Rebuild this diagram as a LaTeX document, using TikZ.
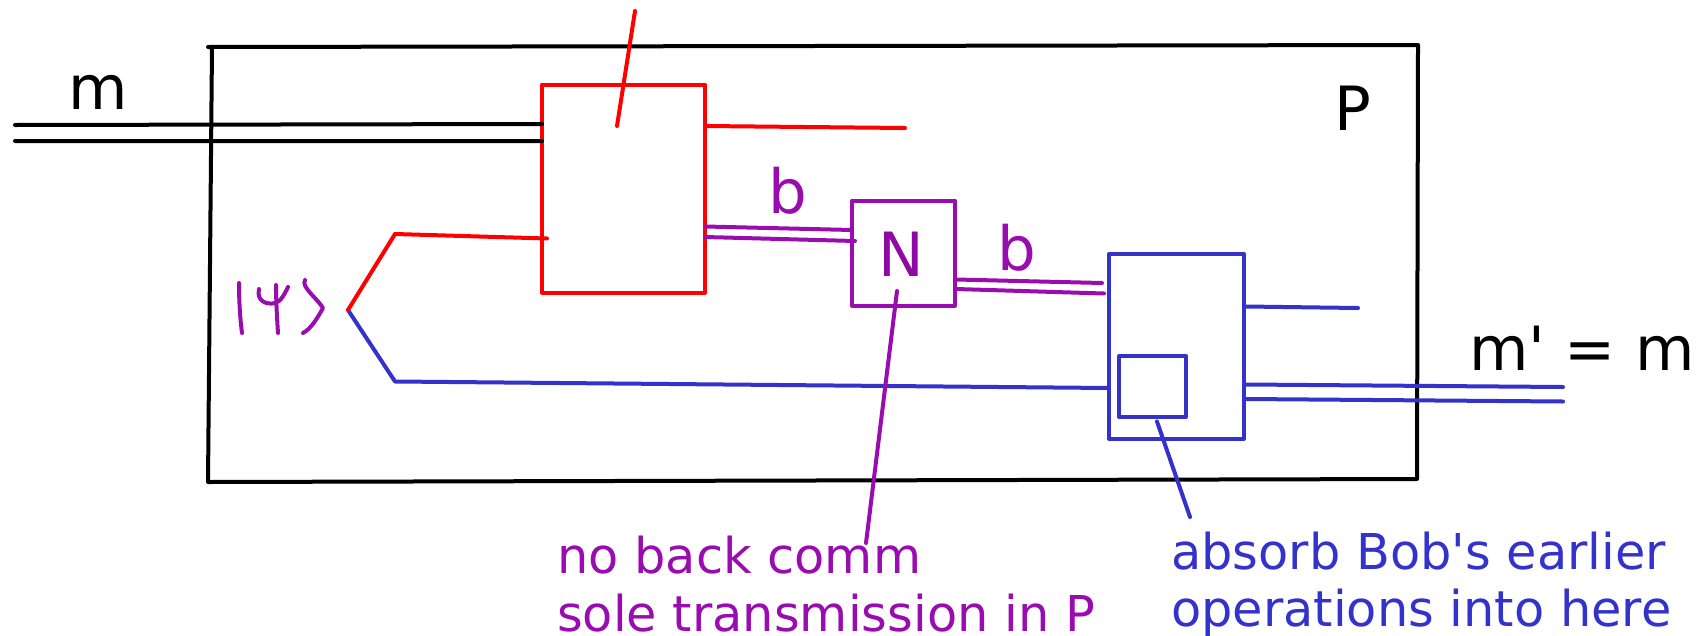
\documentclass[tikz,border=0pt]{standalone}
\usepackage{fontspec}
\newfontfamily\dv{DejaVu Sans}
\definecolor{pur}{HTML}{990DB0}
\definecolor{purd}{HTML}{8F0AA5}
\definecolor{blu}{HTML}{3333CC}
\definecolor{rd}{HTML}{FF0000}
\tikzset{
 ln/.style={line width=4pt,line cap=round,line join=round},
 box/.style={draw,ln,inner sep=0pt,outer sep=0pt,minimum width=#1},
 bigt/.style={font=\dv\fontsize{61}{61}\selectfont,inner sep=0pt,anchor=base},
 notet/.style={font=\dv\fontsize{49.4}{56}\selectfont,inner sep=0pt,anchor=base west},
}
\begin{document}
\begin{tikzpicture}[x=1pt,y=-1pt]
\useasboundingbox (0,0) rectangle (1699,635);
% frame
\coordinate (p0) at (208,47); \coordinate (p1) at (212,47); \coordinate (p2) at (1418,45);
\coordinate (p3) at (1417,479); \coordinate (p4) at (208,482);
\draw[ln,black] (p0)--(p2)--(p3)--(p4) (p1)--(p4);
% boxes
\node[box=163pt,draw=rd,minimum height=208pt] (alice) at (623.5,188.5) {};
\node[box=103pt,draw=pur,minimum height=105pt] (noise) at (903.5,253) {};
\node[box=135pt,draw=blu,minimum height=185pt] (bob) at (1176.5,346.5) {};
\node[box=67pt,draw=blu,minimum height=61pt] (inner) at (1152.5,386.5) {};
% labels
\node[bigt] (lm) at (98,109) {m};
\node[bigt] (lP) at (1353,130) {P};
\node[bigt,anchor=base east] (lmp) at (1695,370) {m' = m};
\node[bigt,text=pur] (lb1) at (787.5,213) {b};
\node[bigt,text=pur] (lb2) at (1017,270.5) {b};
\node[bigt,text=purd] (lN) at (901,276) {N};
\node[notet,text=pur] (n1) at (557,573.5) {no back comm};
\node[notet,text=pur] (n2) at (557,631) {sole transmission in P};
\node[notet,text=blu] (n3) at (1171,569) {absorb Bob's earlier};
\node[notet,text=blu] (n4) at (1171,626) {operations into here};
% m wires
\coordinate (m1) at (15,125); \coordinate (m2) at (15,141);
\coordinate (m1e) at (542,124); \coordinate (m2e) at (542,141);
\draw[ln,black] (m1)--(m1e) (m2)--(m2e);
% red
\coordinate (rt) at (635,11); \coordinate (rti) at (617,126);
\coordinate (ro) at (705,126); \coordinate (roe) at (905,128);
\coordinate (apex) at (348,310); \coordinate (ry) at (395,234); \coordinate (rye) at (547,238.5);
\draw[ln,rd] (rt)--(rti) (ro)--(roe);
\draw[ln,rd] (ry)--(rye);
% blue
\coordinate (by) at (395,381.5); \coordinate (bye) at (1109,388);
\coordinate (bo) at (1246,306.5); \coordinate (boe) at (1358,308);
\coordinate (o1) at (1246,384.5); \coordinate (o1e) at (1563,387);
\coordinate (o2) at (1246,399); \coordinate (o2e) at (1563,401.5);
\draw[ln,blu] (apex)--(by)--(bye);
\draw[ln,rd] (apex)--(ry);
\draw[ln,blu] (bo)--(boe) (o1)--(o1e) (o2)--(o2e);
\coordinate (c2a) at (1157,421.5); \coordinate (c2b) at (1190,517);
\draw[ln,blu] (c2a)--(c2b);
% purple
\coordinate (a1) at (705,226.5); \coordinate (a1e) at (852,230);
\coordinate (a2) at (705,237); \coordinate (a2e) at (855,241);
\coordinate (d1) at (956,279.5); \coordinate (d1e) at (1102,283);
\coordinate (d2) at (956,289); \coordinate (d2e) at (1104,293.5);
\coordinate (c1a) at (897,291); \coordinate (c1b) at (866,543);
\draw[ln,pur] (a1)--(a1e) (a2)--(a2e) (d1)--(d1e) (d2)--(d2e) (c1a)--(c1b);
% handwritten |psi>
\draw[ln,pur] (239,283) .. controls (239,300) and (240,318) .. (242,333);
\draw[ln,pur] (259,289) .. controls (256,302) and (268,305) .. (275,303) .. controls (281,302) and (285,293) .. (288,287);
\draw[ln,pur] (276,285) .. controls (276,300) and (277,318) .. (278,333);
\draw[ln,pur] (305,280) .. controls (301,287) and (316,297) .. (323,308) .. controls (318,317) and (311,329) .. (303,333);
\end{tikzpicture}
\end{document}
